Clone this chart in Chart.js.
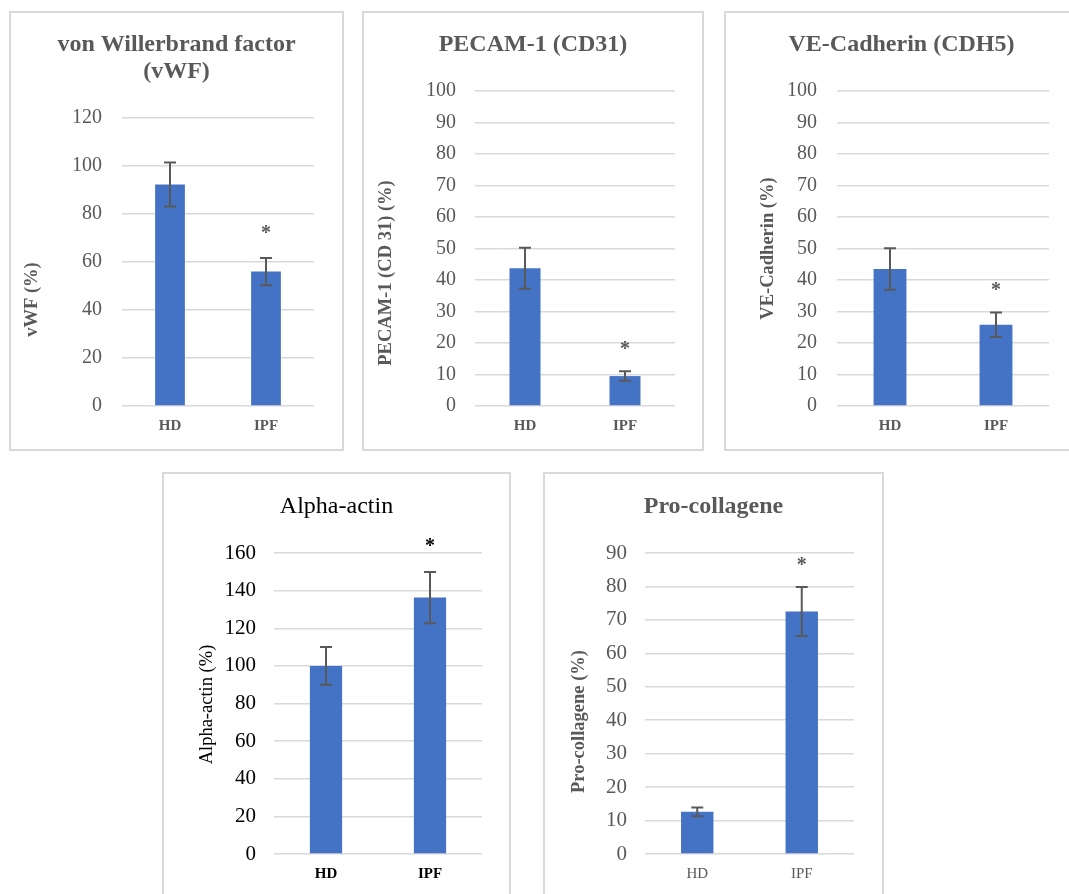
<!DOCTYPE html>
<html>
<head>
<meta charset="utf-8">
<script src="https://cdn.jsdelivr.net/npm/chart.js@4"></script>
<style>
  html, body { margin: 0; padding: 0; background: #fff; overflow: hidden; }
  body { width: 1069px; height: 894px; position: relative; }
  canvas { position: absolute; }
  .frame { position: absolute; box-sizing: border-box; border: 2px solid #d9d9d9; pointer-events: none; }
</style>
</head>
<body>
<canvas id="c1"></canvas>
<canvas id="c2"></canvas>
<canvas id="c3"></canvas>
<canvas id="c4"></canvas>
<canvas id="c5"></canvas>
<script>
// groups on the x axis
const categories = ['HD', 'IPF'];

// mean values and +/- error
const vwfMean = [92.3, 56];
const vwfErr = [9.2, 5.7];
const pecamMean = [43.7, 9.5];
const pecamErr = [6.5, 1.5];
const cdh5Mean = [43.5, 25.8];
const cdh5Err = [6.6, 3.9];
const actinMean = [100, 136.3];
const actinErr = [10, 13.6];
const collMean = [12.6, 72.5];
const collErr = [1.3, 7.3];

// significance marks above each bar
const signif = ['', '*'];

// y axis ranges (max, step)
const vwfAxis = [120, 20];
const pecamAxis = [100, 10];
const cdh5Axis = [100, 10];
const actinAxis = [160, 20];
const collAxis = [90, 10];

const serif = '"Liberation Serif", "Times New Roman", serif';
const gray = '#595959';
const black = '#000000';
const barBlue = '#4472C4';

// error bars + star, drawn through the y scale
const errorBarPlugin = {
    id: 'errorBars',
    afterDatasetsDraw(chart, args, opts) {
        const ctx = chart.ctx;
        const y = chart.scales.y;
        const meta = chart.getDatasetMeta(0);
        const means = chart.data.datasets[0].data;
        ctx.save();
        meta.data.forEach((bar, i) => {
            const top = y.getPixelForValue(means[i] + opts.err[i]);
            const bottom = y.getPixelForValue(means[i] - opts.err[i]);
            ctx.strokeStyle = gray;
            ctx.lineWidth = 2;
            ctx.beginPath();
            ctx.moveTo(bar.x, top);
            ctx.lineTo(bar.x, bottom);
            ctx.moveTo(bar.x - 6, top);
            ctx.lineTo(bar.x + 6, top);
            ctx.moveTo(bar.x - 6, bottom);
            ctx.lineTo(bar.x + 6, bottom);
            ctx.stroke();
            if (opts.marks[i]) {
                ctx.fillStyle = opts.markColor;
                ctx.font = 'bold 20px ' + serif;
                ctx.textAlign = 'center';
                ctx.textBaseline = 'alphabetic';
                ctx.fillText(opts.marks[i], bar.x, top - opts.markGap);
            }
        });
        ctx.restore();
    }
};

// rotated y axis caption, placed like the original (not centred on the axis)
const yCaptionPlugin = {
    id: 'yCaption',
    afterDraw(chart, args, opts) {
        const ctx = chart.ctx;
        ctx.save();
        ctx.translate(opts.x, opts.y);
        ctx.rotate(-Math.PI / 2);
        ctx.fillStyle = opts.color;
        ctx.font = (opts.bold ? 'bold ' : '') + '18.5px ' + serif;
        ctx.textAlign = 'center';
        ctx.textBaseline = 'middle';
        ctx.fillText(opts.text, 0, 0);
        ctx.restore();
    }
};

function makePanel(id, box, p) {
    const canvas = document.getElementById(id);
    canvas.width = box.w;
    canvas.height = box.h;
    canvas.style.left = box.x + 'px';
    canvas.style.top = box.y + 'px';
    canvas.style.width = box.w + 'px';
    canvas.style.height = box.h + 'px';

    const frame = document.createElement('div');
    frame.className = 'frame';
    frame.style.left = box.x + 'px';
    frame.style.top = box.y + 'px';
    frame.style.width = box.w + 'px';
    frame.style.height = box.h + 'px';
    document.body.appendChild(frame);

    return new Chart(canvas.getContext('2d'), {
        type: 'bar',
        data: {
            labels: categories,
            datasets: [{
                data: p.means,
                backgroundColor: barBlue,
                barPercentage: 0.31,
                categoryPercentage: 1
            }]
        },
        options: {
            responsive: false,
            animation: false,
            devicePixelRatio: 1,
            layout: { padding: 0 },
            plugins: {
                legend: { display: false },
                tooltip: { enabled: false },
                title: {
                    display: true,
                    text: p.title,
                    color: p.titleColor,
                    font: { family: serif, size: 24, weight: p.titleBold ? 'bold' : 'normal', lineHeight: 1.125 },
                    padding: { top: p.titleTop, bottom: p.titleBottom }
                },
                errorBars: { err: p.err, marks: signif, markGap: p.markGap, markColor: p.textColor },
                yCaption: { text: p.yTitle, x: p.yTitlePos[0], y: p.yTitlePos[1], bold: p.yBold, color: p.textColor }
            },
            scales: {
                x: {
                    grid: { display: false },
                    border: { display: false },
                    ticks: {
                        color: p.textColor,
                        padding: 3,
                        font: { family: serif, size: 15, weight: p.catBold ? 'bold' : 'normal' }
                    },
                    afterFit: s => { s.height = p.xAxisH; }
                },
                y: {
                    min: 0,
                    max: p.axis[0],
                    grid: { color: '#d9d9d9', lineWidth: 1.5, drawTicks: false },
                    border: { display: false },
                    ticks: {
                        stepSize: p.axis[1],
                        color: p.textColor,
                        padding: p.tickPad,
                        font: { family: serif, size: p.tickSize }
                    },
                    afterFit: s => { s.width = p.yAxisW; }
                },
                // empty right-hand axis, only keeps the white margin on the right
                yRight: {
                    position: 'right',
                    grid: { display: false },
                    border: { display: false },
                    ticks: { display: false },
                    afterFit: s => { s.width = p.padRight; }
                }
            }
        },
        plugins: [errorBarPlugin, yCaptionPlugin]
    });
}

makePanel('c1', { x: 9, y: 11, w: 335, h: 440 }, {
    means: vwfMean, err: vwfErr, axis: vwfAxis,
    title: ['von Willerbrand factor', '(vWF)'], titleColor: gray, titleBold: true,
    titleTop: 20.5, titleBottom: 32.5,
    yTitle: 'vWF (%)', yBold: true, yTitlePos: [23, 288.5],
    textColor: gray, catBold: true, tickSize: 20, tickPad: 20,
    yAxisW: 113, xAxisH: 45, padRight: 30, markGap: 19
});

makePanel('c2', { x: 362, y: 11, w: 342, h: 440 }, {
    means: pecamMean, err: pecamErr, axis: pecamAxis,
    title: 'PECAM-1 (CD31)', titleColor: gray, titleBold: true,
    titleTop: 20.5, titleBottom: 32.5,
    yTitle: 'PECAM-1 (CD 31) (%)', yBold: true, yTitlePos: [24.7, 262],
    textColor: gray, catBold: true, tickSize: 20, tickPad: 19,
    yAxisW: 113, xAxisH: 45, padRight: 29, markGap: 16
});

makePanel('c3', { x: 724, y: 11, w: 355, h: 440 }, {
    means: cdh5Mean, err: cdh5Err, axis: cdh5Axis,
    title: 'VE-Cadherin (CDH5)', titleColor: gray, titleBold: true,
    titleTop: 20.5, titleBottom: 32.5,
    yTitle: 'VE-Cadherin (%)', yBold: true, yTitlePos: [44, 237.5],
    textColor: gray, catBold: true, tickSize: 20, tickPad: 20,
    yAxisW: 113, xAxisH: 45, padRight: 30, markGap: 16
});

makePanel('c4', { x: 162, y: 472, w: 349, h: 430 }, {
    means: actinMean, err: actinErr, axis: actinAxis,
    title: 'Alpha-actin', titleColor: black, titleBold: false,
    titleTop: 21.2, titleBottom: 32.8,
    yTitle: 'Alpha-actin (%)', yBold: false, yTitlePos: [45, 232.5],
    textColor: black, catBold: true, tickSize: 21, tickPad: 18,
    yAxisW: 112, xAxisH: 48, padRight: 29, markGap: 20
});

makePanel('c5', { x: 543, y: 472, w: 341, h: 430 }, {
    means: collMean, err: collErr, axis: collAxis,
    title: 'Pro-collagene', titleColor: gray, titleBold: true,
    titleTop: 21.2, titleBottom: 32.8,
    yTitle: 'Pro-collagene (%)', yBold: true, yTitlePos: [36, 249.5],
    textColor: gray, catBold: false, tickSize: 21, tickPad: 18,
    yAxisW: 102, xAxisH: 48, padRight: 30, markGap: 16
});
</script>
</body>
</html>
